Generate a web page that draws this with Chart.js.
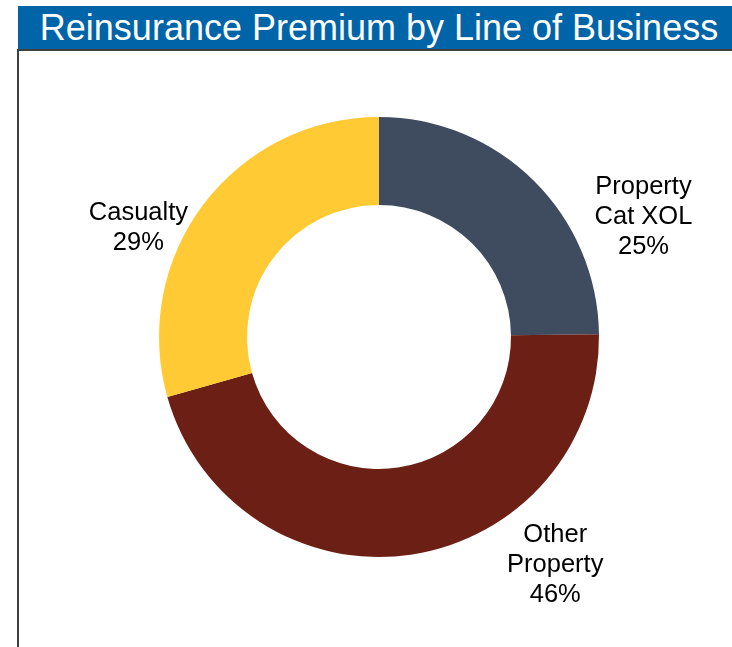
<!DOCTYPE html>
<html>
<head>
<meta charset="utf-8">
<script src="https://cdn.jsdelivr.net/npm/chart.js@4"></script>
<style>
  html, body { margin: 0; padding: 0; background: #fff; }
  body { width: 732px; height: 647px; position: relative; overflow: hidden; font-family: "Liberation Sans", Arial, sans-serif; }
  #title {
    position: absolute; left: 18px; top: 6px; width: 714px; height: 43px;
    background: #0064A8; color: #fff; font-size: 36px; line-height: 43px;
    text-align: center; white-space: nowrap; text-indent: 8px;
  }
  #frame {
    position: absolute; left: 17px; top: 49px; right: 0; bottom: 0;
    border-left: 2px solid #404040; border-top: 2px solid #404040;
  }
  #wrap { position: absolute; left: 0; top: 0; width: 732px; height: 647px; }
</style>
</head>
<body>
<div id="title">Reinsurance Premium by Line of Business</div>
<div id="frame"></div>
<div id="wrap"><canvas id="chart"></canvas></div>
<script>
const categories = ['Property Cat XOL', 'Other Property', 'Casualty'];
const labelLines = [['Property', 'Cat XOL'], ['Other', 'Property'], ['Casualty']];
const shares = [24.8, 45.8, 29.4];
const colors = ['#3F4B5F', '#6C1F15', '#FFCA33'];

// where each label sits: angle from top (clockwise, degrees) and distance as a factor of outer radius
const labelAngles = [65.6, 142.3, 294.3];
const labelDist = [1.32, 1.31, 1.20];

const outsideLabels = {
  id: 'outsideLabels',
  afterDatasetsDraw(chart) {
    const ctx = chart.ctx;
    const meta = chart.getDatasetMeta(0);
    const total = shares.reduce((a, b) => a + b, 0);
    ctx.save();
    ctx.font = '25.5px "Liberation Sans", Arial, sans-serif';
    ctx.fillStyle = '#000';
    ctx.textAlign = 'center';
    ctx.textBaseline = 'middle';
    meta.data.forEach((arc, i) => {
      const a = labelAngles[i] * Math.PI / 180;
      const r = arc.outerRadius * labelDist[i];
      const cx = arc.x + Math.sin(a) * r;
      const cy = arc.y - Math.cos(a) * r;
      const lines = labelLines[i].concat([Math.round(shares[i] / total * 100) + '%']);
      const lh = 30;
      lines.forEach((t, j) => {
        ctx.fillText(t, cx, cy + (j - (lines.length - 1) / 2) * lh);
      });
    });
    ctx.restore();
  }
};

new Chart(document.getElementById('chart'), {
  type: 'doughnut',
  data: {
    labels: categories,
    datasets: [{
      data: shares,
      backgroundColor: colors,
      borderWidth: 0
    }]
  },
  options: {
    responsive: true,
    maintainAspectRatio: false,
    animation: false,
    cutout: '60%',
    layout: { padding: { left: 159, right: 133, top: 117, bottom: 90 } },
    plugins: {
      legend: { display: false },
      tooltip: { enabled: false }
    }
  },
  plugins: [outsideLabels]
});
</script>
</body>
</html>
